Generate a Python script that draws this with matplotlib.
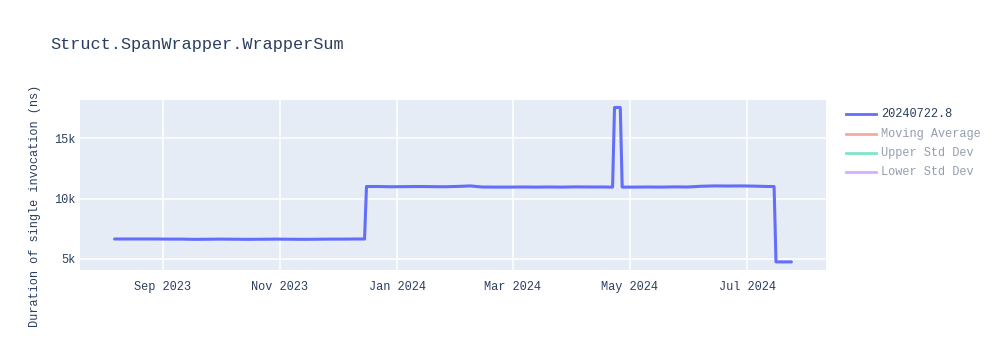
import matplotlib
matplotlib.use("Agg")
import matplotlib.pyplot as plt
import matplotlib.dates as mdates
from matplotlib.lines import Line2D
import pandas as pd

# ---- data ----
dates = [
    "2023-08-07", "2023-08-14", "2023-08-21", "2023-08-28", "2023-09-04", "2023-09-11",
    "2023-09-18", "2023-09-25", "2023-10-02", "2023-10-09", "2023-10-16", "2023-10-23",
    "2023-10-30", "2023-11-06", "2023-11-13", "2023-11-20", "2023-11-27", "2023-12-04",
    "2023-12-11", "2023-12-15",
    "2023-12-16", "2023-12-22", "2023-12-29", "2024-01-05", "2024-01-12", "2024-01-19",
    "2024-01-26", "2024-02-02", "2024-02-08", "2024-02-14", "2024-02-21", "2024-02-28",
    "2024-03-06", "2024-03-13", "2024-03-20", "2024-03-27", "2024-04-03", "2024-04-10",
    "2024-04-17", "2024-04-22",
    "2024-04-23", "2024-04-26",
    "2024-04-27", "2024-05-03", "2024-05-10", "2024-05-17", "2024-05-24", "2024-05-31",
    "2024-06-07", "2024-06-14", "2024-06-21", "2024-06-28", "2024-07-05", "2024-07-12",
    "2024-07-15",
    "2024-07-16", "2024-07-20", "2024-07-24",
]
values = [
    6650, 6650, 6650, 6650, 6640, 6640,
    6620, 6630, 6640, 6630, 6620, 6630,
    6640, 6630, 6620, 6630, 6640, 6640,
    6650, 6650,
    11000, 11000, 10980, 10990, 11000, 10990,
    10980, 11010, 11050, 10960, 10950, 10950,
    10960, 10950, 10960, 10950, 10970, 10960,
    10960, 10950,
    17550, 17550,
    10950, 10950, 10960, 10950, 10970, 10960,
    11020, 11050, 11040, 11050, 11030, 11000,
    11000,
    4750, 4750, 4750,
]
series_name = "20240722.8"
legend_names = ["20240722.8", "Moving Average", "Upper Std Dev", "Lower Std Dev"]
legend_colors = ["#636efa", "#EF553B", "#00cc96", "#ab63fa"]
xtick_dates = ["2023-09-01", "2023-11-01", "2024-01-01", "2024-03-01", "2024-05-01", "2024-07-01"]
ytick_vals = [5000, 10000, 15000]
ytick_labels = ["5k", "10k", "15k"]
title = "Struct.SpanWrapper.WrapperSum"
ylabel = "Duration of single invocation (ns)"

FONT = "Liberation Mono"
W, H = 1000, 350
fig = plt.figure(figsize=(W / 100, H / 100), dpi=100)
fig.patch.set_facecolor("white")

# plot area in pixels: left 80, right 826, top 100, bottom 270
ax = fig.add_axes([80 / W, 1 - 270 / H, (826 - 80) / W, (270 - 100) / H])
ax.set_facecolor("#E5ECF6")

x = pd.to_datetime(dates)
ax.plot(x, values, color=legend_colors[0], linewidth=2.2, solid_joinstyle="round",
        solid_capstyle="round")

ax.set_xlim(pd.Timestamp("2023-07-20"), pd.Timestamp("2024-08-11"))
ax.set_ylim(4080, 18170)

ax.set_xticks(pd.to_datetime(xtick_dates))
ax.xaxis.set_major_formatter(mdates.DateFormatter("%b %Y"))
ax.set_yticks(ytick_vals)
ax.set_yticklabels(ytick_labels)

ax.grid(True, color="white", linewidth=1.1)
ax.set_axisbelow(True)
for s in ax.spines.values():
    s.set_visible(False)
ax.tick_params(axis="both", length=0, labelsize=8.6, colors="#2a3f5f")
ax.tick_params(axis="x", pad=8)
ax.tick_params(axis="y", pad=3)
for lbl in ax.get_xticklabels() + ax.get_yticklabels():
    lbl.set_fontfamily(FONT)

# title
fig.text(50 / W, 1 - 45 / H, title, fontsize=12.2, family=FONT, color="#2a3f5f",
         ha="left", va="center")
# y label
fig.text(35 / W, 1 - 206 / H, ylabel, fontsize=8.6, family=FONT, color="#2a3f5f",
         rotation=90, ha="center", va="center")

# legend (manual, plotly style)
ys = [114, 134, 153, 172]
for i, (name, col) in enumerate(zip(legend_names, legend_colors)):
    yy = 1 - ys[i] / H
    alpha = 1.0 if i == 0 else 0.5
    fig.add_artist(Line2D([846 / W, 876 / W], [yy, yy], transform=fig.transFigure,
                          color=col, linewidth=2, alpha=alpha))
    fig.text(881 / W, yy, name, fontsize=8.6, family=FONT, color="#2a3f5f",
             alpha=alpha, ha="left", va="center")

fig.savefig("out.png", dpi=100, facecolor="white")
